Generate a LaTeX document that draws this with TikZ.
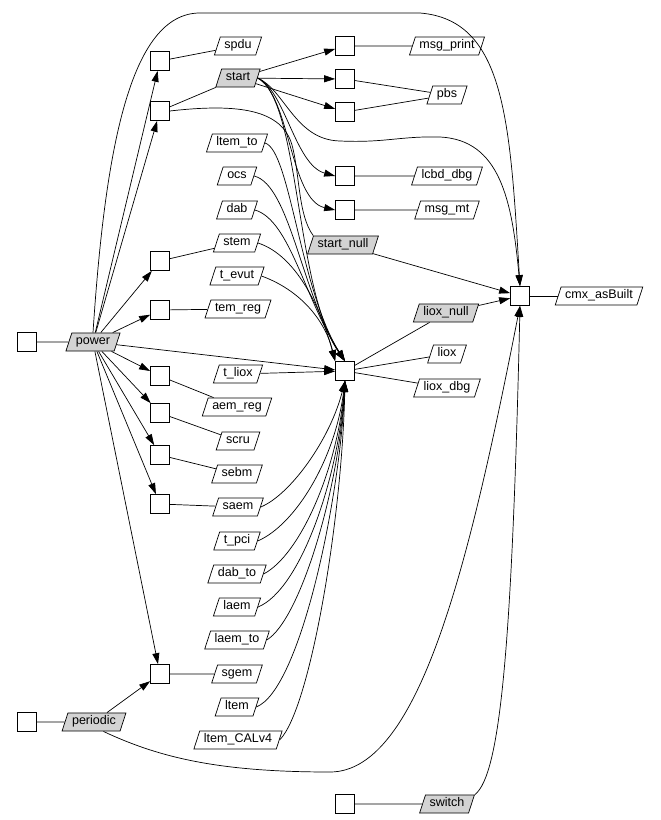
\documentclass[tikz,border=0pt]{standalone}
\usepackage{fontspec}
\setmainfont{Liberation Sans}
\usetikzlibrary{arrows.meta, shapes.geometric}
\definecolor{sigon}{HTML}{D3D3D3}

\begin{document}
\begin{tikzpicture}[x=0.03cm, y=-0.03cm,
    sq/.style={draw, fill=white, minimum size=0.57cm, inner sep=0pt, line width=0.6pt},
    sig/.style={trapezium, trapezium left angle=72, trapezium right angle=108, draw, fill=white,
                line width=0.6pt, font=\fontsize{10.7}{12}\selectfont, text height=0.75em,
                text depth=0.25em, inner xsep=3.5pt, inner ysep=2.75pt},
    sigon/.style={sig, fill=sigon},
    wire/.style={line width=0.6pt},
    arr/.style={-{Triangle[length=0.33cm, width=0.21cm]}, line width=0.6pt},
]
\useasboundingbox (0,0) rectangle (660,820);

% process boxes
\node[sq] (sqspdu) at (160,61) {};
\node[sq] (sqstart) at (160,111) {};
\node[sq] (sqstem) at (160,261) {};
\node[sq] (sqtemreg) at (160,310) {};
\node[sq] (sqaemreg) at (160,376) {};
\node[sq] (sqscru) at (160,413) {};
\node[sq] (sqsebm) at (160,455) {};
\node[sq] (sqsaem) at (160,504) {};
\node[sq] (sqsgem) at (160,674) {};
\node[sq] (sqpower) at (27,342) {};
\node[sq] (sqperiodic) at (27,722) {};
\node[sq] (sqmsgprint) at (345,46) {};
\node[sq] (sqpbsa) at (345,79) {};
\node[sq] (sqpbsb) at (345,112) {};
\node[sq] (sqlcbd) at (345,176) {};
\node[sq] (sqmsgmt) at (345,210) {};
\node[sq] (hub) at (345,371) {};
\node[sq] (cmx) at (520,296) {};
\node[sq] (sqswitch) at (345,804) {};

% signals
\node[sig] (spdu) at (238,46) {spdu};
\node[sigon] (start) at (238,78) {start};
\node[sig] (ltemto) at (237,143) {ltem\_to};
\node[sig] (ocs) at (237,176) {ocs};
\node[sig] (dab) at (237,210) {dab};
\node[sig] (stem) at (237,243) {stem};
\node[sig] (tevut) at (237,276) {t\_evut};
\node[sig] (temreg) at (238,309) {tem\_reg};
\node[sigon] (power) at (93,342) {power};
\node[sig] (tliox) at (238,374) {t\_liox};
\node[sig] (aemreg) at (237,407) {aem\_reg};
\node[sig] (scru) at (238,441) {scru};
\node[sig] (sebm) at (237,474) {sebm};
\node[sig] (saem) at (238,507) {saem};
\node[sig] (tpci) at (237,541) {t\_pci};
\node[sig] (dabto) at (237,574) {dab\_to};
\node[sig] (laem) at (237,607) {laem};
\node[sig] (laemto) at (237,640) {laem\_to};
\node[sig] (sgem) at (237,674) {sgem};
\node[sig] (ltem) at (237,707) {ltem};
\node[sig] (ltemcal) at (238,740) {ltem\_CALv4};
\node[sigon] (periodic) at (94,722) {periodic};
\node[sig] (msgprint) at (447,46) {msg\_print};
\node[sig] (pbs) at (447,95) {pbs};
\node[sig] (lcbd) at (447,176) {lcbd\_dbg};
\node[sig] (msgmt) at (447,210) {msg\_mt};
\node[sigon] (startnull) at (343,245) {start\_null};
\node[sig] (cmxasbuilt) at (599,296) {cmx\_asBuilt};
\node[sigon] (lioxnull) at (446,313) {liox\_null};
\node[sig] (liox) at (447,354) {liox};
\node[sig] (lioxdbg) at (447,388) {liox\_dbg};
\node[sigon] (switch) at (447,804) {switch};

% outputs
\draw[wire] (sqspdu) -- (spdu);
\draw[wire] (sqstart) -- (start);
\draw[wire] (sqpower) -- (power);
\draw[wire] (sqperiodic) -- (periodic);
\draw[wire] (sqswitch) -- (switch);
\draw[wire] (sqmsgprint) -- (msgprint);
\draw[wire] (sqpbsa) -- (pbs);
\draw[wire] (sqpbsb) -- (pbs);
\draw[wire] (sqlcbd) -- (lcbd);
\draw[wire] (sqmsgmt) -- (msgmt);
\draw[wire] (sqstem) -- (stem);
\draw[wire] (sqtemreg) -- (temreg);
\draw[wire] (sqaemreg) -- (aemreg);
\draw[wire] (sqscru) -- (scru);
\draw[wire] (sqsebm) -- (sebm);
\draw[wire] (sqsaem) -- (saem);
\draw[wire] (sqsgem) -- (sgem);
\draw[wire] (cmx) -- (cmxasbuilt);
\draw[wire] (hub) -- (lioxnull);
\draw[wire] (hub) -- (liox);
\draw[wire] (hub) -- (lioxdbg);
\draw[wire] (sqstart.east) .. controls (240,103) and (282,110) .. (292,145)
    .. controls (300,175) and (298,215) .. (startnull.top left corner);

% power
\draw[arr] (power) -- (sqspdu);
\draw[arr] (power) -- (sqstart);
\draw[arr] (power) -- (sqstem);
\draw[arr] (power) -- (sqtemreg);
\draw[arr] (power) -- (hub);
\draw[arr] (power) -- (sqaemreg);
\draw[arr] (power) -- (sqscru);
\draw[arr] (power) -- (sqsebm);
\draw[arr] (power) -- (sqsaem);
\draw[arr] (power) -- (sqsgem);
\draw[arr] (power.north) .. controls (105,150) and (130,13) .. (200,13) -- (420,13)
    .. controls (505,20) and (510,120) .. (cmx.north);

% start
\draw[arr] (start) -- (sqmsgprint);
\draw[arr] (start) -- (sqpbsa);
\draw[arr] (start) -- (sqpbsb);
\draw[arr] (start.east) .. controls (285,90) and (295,165) .. (sqlcbd.west);
\draw[arr] (start.east) .. controls (290,95) and (290,200) .. (sqmsgmt.west);
\draw[arr] (start.east) .. controls (300,100) and (295,290) .. (hub.north);
\draw[arr] (start.east) .. controls (285,90) and (295,140) .. (340,141)
    .. controls (385,143) and (400,136) .. (440,137)
    .. controls (500,140) and (512,200) .. (cmx.north);

% into the hub from above
\draw[arr] (ltemto.east) .. controls (290,150) and (300,290) .. (hub.north);
\draw[arr] (ocs.east) .. controls (290,185) and (302,295) .. (hub.north);
\draw[arr] (dab.east) .. controls (290,220) and (305,300) .. (hub.north);
\draw[arr] (stem.east) .. controls (295,255) and (320,305) .. (hub.north west);
\draw[arr] (tevut.east) .. controls (300,290) and (325,320) .. (hub.north west);
\draw[arr] (tliox) -- (hub);

% into the hub from below
\draw[arr] (saem.east) .. controls (290,495) and (330,440) .. (hub.south);
\draw[arr] (tpci.east) .. controls (295,525) and (335,460) .. (hub.south);
\draw[arr] (dabto.east) .. controls (300,555) and (337,470) .. (hub.south);
\draw[arr] (laem.east) .. controls (300,590) and (338,480) .. (hub.south);
\draw[arr] (laemto.east) .. controls (300,620) and (339,490) .. (hub.south);
\draw[arr] (ltem.east) .. controls (300,690) and (340,500) .. (hub.south);
\draw[arr] (ltemcal.east) .. controls (310,710) and (342,520) .. (hub.south);

% cmx
\draw[arr] (startnull) -- (cmx);
\draw[arr] (lioxnull) -- (cmx);
\draw[arr] (periodic) -- (sqsgem);
\draw[arr] (periodic.south east) .. controls (160,758) and (220,772) .. (330,772)
    .. controls (420,772) and (470,560) .. (cmx.south);
\draw[arr] (switch.top right corner) .. controls (500,775) and (512,650) .. (cmx.south);
\end{tikzpicture}
\end{document}
